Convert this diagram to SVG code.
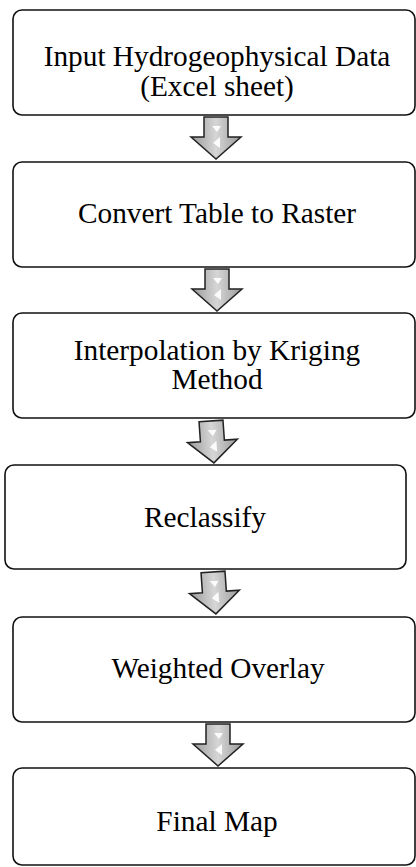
<svg xmlns="http://www.w3.org/2000/svg" xmlns:xlink="http://www.w3.org/1999/xlink" width="416" height="867" viewBox="0 0 416 867">
<style>
.box{fill:#fff;stroke:#111;stroke-width:1.6}
.t{font-family:"Liberation Serif","Times New Roman",serif;font-size:29.3px;fill:#000;text-anchor:middle}
</style>
<defs>
<linearGradient id="ag" x1="0" y1="0" x2="1" y2="0">
<stop offset="0" stop-color="#9a9a9a"/>
<stop offset="0.5" stop-color="#d6d6d6"/>
<stop offset="1" stop-color="#9a9a9a"/>
</linearGradient>
<g id="arr">
<path d="M-12,0 H12 V20 H25 L0,42 L-25,20 H-12 Z" fill="url(#ag)" stroke="#222" stroke-width="1.5"/>
<path d="M-4,9 L5,9 L1,15 Z" fill="#fff" opacity="0.9"/>
<path d="M4,20 L-3,26 L4,31 Z" fill="#fff" opacity="0.9"/>
</g>
</defs>
<g id="connectors">
<use xlink:href="#arr" transform="translate(216,117)"/>
<use xlink:href="#arr" transform="translate(217,269)"/>
<use xlink:href="#arr" transform="translate(211,421) rotate(-4)"/>
<use xlink:href="#arr" transform="translate(213,572) rotate(-4)"/>
<use xlink:href="#arr" transform="translate(218,724)"/>
</g>
<g id="n1">
<rect class="box" x="13" y="10" width="402" height="105" rx="9"/>
<text class="t" x="217" y="66">Input Hydrogeophysical Data</text>
<text class="t" x="217" y="96">(Excel sheet)</text>
</g>
<g id="n2">
<rect class="box" x="13" y="162" width="402" height="105" rx="9"/>
<text class="t" x="217" y="223">Convert Table to Raster</text>
</g>
<g id="n3">
<rect class="box" x="13" y="313" width="402" height="105" rx="9"/>
<text class="t" x="217" y="360">Interpolation by Kriging</text>
<text class="t" x="217" y="389">Method</text>
</g>
<g id="n4">
<rect class="box" x="5" y="465" width="401" height="104" rx="9"/>
<text class="t" x="205" y="527">Reclassify</text>
</g>
<g id="n5">
<rect class="box" x="13" y="617" width="402" height="105" rx="9"/>
<text class="t" x="218" y="678">Weighted Overlay</text>
</g>
<g id="n6">
<rect class="box" x="13" y="768" width="402" height="97" rx="9"/>
<text class="t" x="217" y="831">Final Map</text>
</g>
</svg>
